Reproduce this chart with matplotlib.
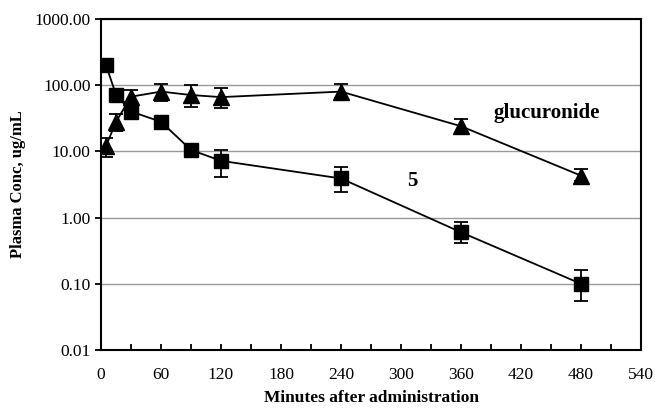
import numpy as np
from matplotlib import pyplot as plt
from matplotlib.ticker import FixedLocator, FormatStrFormatter, MultipleLocator

# compound 5
t5 = [5, 15, 30, 60, 90, 120, 240, 360, 480]
c5 = [200, 72, 40, 28, 10.5, 7.2, 3.9, 0.6, 0.1]
c5_hi = [200, 72, 40, 28, 10.5, 10.5, 5.8, 0.85, 0.16]
c5_lo = [200, 72, 40, 28, 10.5, 4.1, 2.4, 0.41, 0.055]

# glucuronide
tg = [5, 15, 30, 60, 90, 120, 240, 360, 480]
cg = [12, 28, 67, 80, 71, 66, 80, 24, 4.3]
cg_hi = [16, 37, 85, 105, 100, 91, 105, 31, 5.5]
cg_lo = [8.1, 20, 55, 58, 47, 45, 65, 19, 3.6]

plt.rcParams['font.family'] = ['Liberation Serif', 'DejaVu Serif']

fig = plt.figure(figsize=(6.55, 4.08), dpi=100)
ax = fig.add_axes([0.1542, 0.1422, 0.8244, 0.8113])

def err(v, hi, lo):
    v = np.array(v)
    return [v - np.array(lo), np.array(hi) - v]

ax.errorbar(t5, c5, yerr=err(c5, c5_hi, c5_lo), color='black', marker='s',
            markersize=10, lw=1.3, elinewidth=1.3, capsize=5, capthick=1.3, zorder=3)
ax.errorbar(tg, cg, yerr=err(cg, cg_hi, cg_lo), color='black', marker='^',
            markersize=12, lw=1.3, elinewidth=1.3, capsize=5, capthick=1.3, zorder=3)

ax.set_yscale('log')
ax.set_ylim(0.01, 1000)
ax.set_xlim(0, 540)
ax.yaxis.set_major_locator(FixedLocator([0.01, 0.1, 1, 10, 100, 1000]))
ax.yaxis.set_major_formatter(FormatStrFormatter('%.2f'))
ax.yaxis.set_minor_locator(FixedLocator([]))
ax.xaxis.set_major_locator(MultipleLocator(60))
ax.xaxis.set_minor_locator(MultipleLocator(30))
ax.grid(axis='y', which='major', color='#999999', lw=1)
ax.set_axisbelow(True)

ax.tick_params(axis='y', direction='out', length=4, width=1.3, labelsize=12.5)
ax.tick_params(axis='x', which='both', direction='in', length=4, width=1.3,
               labelsize=12.5, pad=12)
for s in ax.spines.values():
    s.set_linewidth(1.5)

fig.text(0.5672, 0.004, 'Minutes after administration', fontsize=12.5,
         fontweight='bold', ha='center', va='bottom')
ax.set_ylabel('Plasma Conc, ug/mL', fontsize=12, fontweight='bold', labelpad=6)

ax.text(393, 38, 'glucuronide', fontsize=15, fontweight='bold', va='center', ha='left')
ax.text(311, 3.6, '5', fontsize=15, fontweight='bold', va='center', ha='center')

fig.savefig('out.png', dpi=100)
